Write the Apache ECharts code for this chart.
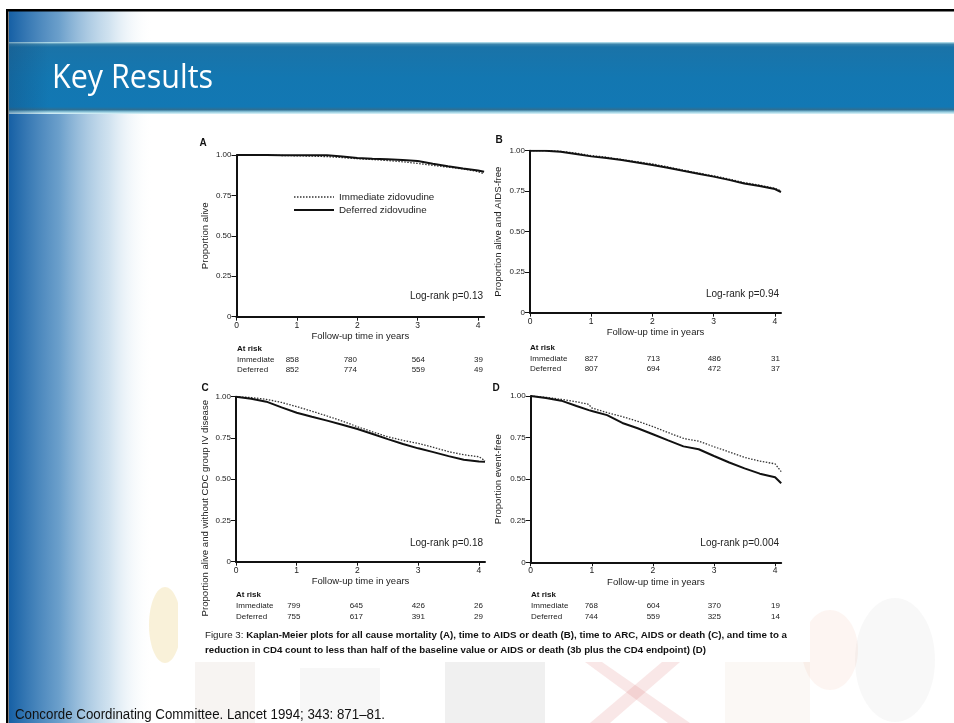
<!DOCTYPE html>
<html><head><meta charset="utf-8">
<script src="https://cdn.jsdelivr.net/npm/echarts@6/dist/echarts.min.js"></script>
<style>html,body{margin:0;padding:0;background:#fff}#c{width:954px;height:723px}</style>
</head><body><div id="c"></div>
<script>
// ---------- data ----------
const panelLetters = ['A', 'B', 'C', 'D'];
const yAxisNames = ['Proportion alive', 'Proportion alive and AIDS-free', 'Proportion alive and without CDC group IV disease', 'Proportion event-free'];
const logRank = ['Log-rank p=0.13', 'Log-rank p=0.94', 'Log-rank p=0.18', 'Log-rank p=0.004'];
const xTicks = [0, 1, 2, 3, 4];
const yTicks = [0, 0.25, 0.5, 0.75, 1];
const seriesNames = ['Immediate zidovudine', 'Deferred zidovudine'];

const timeABC = [0, 0.25, 0.5, 0.75, 1, 1.25, 1.5, 1.75, 2, 2.25, 2.5, 2.75, 3, 3.25, 3.5, 3.75, 4, 4.1];
const immA = [1, 1, 0.999, 0.997, 0.995, 0.993, 0.99, 0.984, 0.977, 0.972, 0.966, 0.958, 0.948, 0.936, 0.925, 0.914, 0.897, 0.883];
const defA = [1, 1, 1, 0.999, 0.998, 0.998, 0.999, 0.99, 0.981, 0.977, 0.974, 0.969, 0.963, 0.946, 0.931, 0.917, 0.904, 0.897];
const immB = [1, 1, 0.996, 0.985, 0.97, 0.96, 0.945, 0.932, 0.918, 0.9, 0.88, 0.862, 0.845, 0.825, 0.803, 0.787, 0.768, 0.752];
const defB = [1, 1, 0.994, 0.98, 0.965, 0.955, 0.942, 0.927, 0.912, 0.895, 0.876, 0.858, 0.84, 0.82, 0.798, 0.782, 0.763, 0.745];
const immC = [1, 0.995, 0.984, 0.965, 0.94, 0.912, 0.883, 0.852, 0.818, 0.787, 0.757, 0.735, 0.717, 0.693, 0.667, 0.648, 0.636, 0.612];
const defC = [1, 0.988, 0.97, 0.935, 0.903, 0.878, 0.855, 0.83, 0.804, 0.774, 0.743, 0.713, 0.687, 0.664, 0.64, 0.618, 0.607, 0.606];
const timeD = [0, 0.25, 0.5, 0.75, 0.95, 1, 1.25, 1.5, 1.75, 2, 2.25, 2.5, 2.75, 3, 3.25, 3.5, 3.75, 4, 4.1];
const immD = [1, 0.992, 0.98, 0.965, 0.95, 0.928, 0.9, 0.876, 0.848, 0.816, 0.78, 0.745, 0.728, 0.695, 0.663, 0.631, 0.608, 0.592, 0.545];
const defD = [1, 0.988, 0.972, 0.94, 0.915, 0.91, 0.885, 0.838, 0.806, 0.77, 0.733, 0.697, 0.68, 0.639, 0.6, 0.565, 0.533, 0.511, 0.475];

const riskImmA = [858, 780, 564, 39], riskDefA = [852, 774, 559, 49];
const riskImmB = [827, 713, 486, 31], riskDefB = [807, 694, 472, 37];
const riskImmC = [799, 645, 426, 26], riskDefC = [755, 617, 391, 29];
const riskImmD = [768, 604, 370, 19], riskDefD = [744, 559, 325, 14];

const captionNormal = 'Figure 3: ';
const captionBold1 = 'Kaplan-Meier plots for all cause mortality (A), time to AIDS or death (B), time to ARC, AIDS or death (C), and time to a';
const captionBold2 = 'reduction in CD4 count to less than half of the baseline value or AIDS or death (3b plus the CD4 endpoint) (D)';
const slideTitle = 'Key Results';
const footer = 'Concorde Coordinating Committee. Lancet 1994; 343: 871\u201381.';

// ---------- layout ----------
const FF = "'Liberation Sans', Arial, sans-serif";
const grids = [
  {left: 236.5, top: 155, width: 247.6, height: 161.7},
  {left: 530, top: 150.7, width: 251, height: 162},
  {left: 236, top: 396.7, width: 249, height: 165},
  {left: 530.7, top: 396, width: 250.5, height: 166.3}
];
const nameGaps = [26, 27, 26, 27];
const namePads = [[0, 0, 0, 0], [0, 0, 0, 0], [0, 58, 0, 0], [0, 0, 0, 0]];
const timeSets = [timeABC, timeABC, timeABC, timeD];
const immSets = [immA, immB, immC, immD];
const defSets = [defA, defB, defC, defD];
const riskImm = [riskImmA, riskImmB, riskImmC, riskImmD];
const riskDef = [riskDefA, riskDefB, riskDefC, riskDefD];
const riskCols = [[299, 357, 425, 483], [598, 660, 721, 780], [300.5, 363, 425, 483], [598, 660, 721, 780]];
const riskRows = [[349, 359.5, 370], [347.5, 358.3, 369], [595, 605.7, 616.5], [595, 606, 616.5]];
const letterPos = [[203, 143], [499, 140], [205, 388], [496, 388]];
const logPos = [[483, 296.5], [779, 294.5], [483, 543], [779, 543]];

const mctx = document.createElement('canvas').getContext('2d');
function tw(str, font) { mctx.font = font; return mctx.measureText(str).width; }

const chart = echarts.init(document.getElementById('c'), null, {renderer: 'canvas'});

const xAxes = [], yAxes = [], series = [];
grids.forEach((g, i) => {
  xAxes.push({
    gridIndex: i, type: 'value', min: 0, max: 4.1,
    name: 'Follow-up time in years', nameLocation: 'middle', nameGap: 15,
    nameTextStyle: {fontSize: 9.5, color: '#222', fontFamily: FF},
    axisLine: {show: true, onZero: false, lineStyle: {color: '#111', width: 2}},
    axisTick: {show: true, length: 4, customValues: xTicks, lineStyle: {color: '#111', width: 1}},
    axisLabel: {fontSize: 8.5, color: '#222', margin: 4, fontFamily: FF, customValues: xTicks},
    splitLine: {show: false}
  });
  yAxes.push({
    gridIndex: i, type: 'value', min: 0, max: 1, interval: 0.25,
    name: yAxisNames[i], nameLocation: 'middle', nameGap: nameGaps[i],
    nameTextStyle: {fontSize: 9.6, color: '#222', fontFamily: FF, padding: namePads[i]},
    axisLine: {show: true, onZero: false, lineStyle: {color: '#111', width: 2}},
    axisTick: {show: true, length: 5, lineStyle: {color: '#111', width: 1}},
    axisLabel: {fontSize: 8, color: '#222', margin: 5, fontFamily: FF,
      formatter: v => v === 0 ? '0' : v.toFixed(2)},
    splitLine: {show: false}
  });
  const t = timeSets[i];
  series.push({
    name: seriesNames[0], type: 'line', xAxisIndex: i, yAxisIndex: i, color: '#333',
    data: t.map((x, k) => [x, immSets[i][k]]), symbol: 'none', z: 3,
    lineStyle: {color: '#333', width: 1.3, type: [1.5, 1.5]}, silent: true
  });
  series.push({
    name: seriesNames[1], type: 'line', xAxisIndex: i, yAxisIndex: i, color: '#111',
    data: t.map((x, k) => [x, defSets[i][k]]), symbol: 'none', z: 4,
    lineStyle: {color: '#111', width: 2}, silent: true
  });
});

// ---------- graphics ----------
const gfx = [];
gfx.push({type: 'rect', z: -20, shape: {x: 0, y: 0, width: 954, height: 723}, style: {fill: '#ffffff'}});
gfx.push({type: 'rect', z: -19, shape: {x: 9, y: 11, width: 200, height: 712},
  style: {fill: new echarts.graphic.LinearGradient(0, 0, 1, 0, [
    {offset: 0, color: 'rgba(22,96,165,1)'}, {offset: 0.25, color: 'rgba(70,135,190,0.8)'},
    {offset: 0.5, color: 'rgba(150,190,220,0.45)'}, {offset: 0.72, color: 'rgba(255,255,255,0)'},
    {offset: 1, color: 'rgba(255,255,255,0)'}])}});
// faded collage hints
gfx.push({type: 'ellipse', z: -18, shape: {cx: 165, cy: 625, rx: 16, ry: 38}, style: {fill: 'rgba(235,205,120,0.28)'}});
gfx.push({type: 'rect', z: -18, shape: {x: 195, y: 662, width: 60, height: 61}, style: {fill: 'rgba(150,120,90,0.08)'}});
gfx.push({type: 'rect', z: -18, shape: {x: 300, y: 668, width: 80, height: 55}, style: {fill: 'rgba(120,120,120,0.06)'}});
gfx.push({type: 'rect', z: -18, shape: {x: 445, y: 662, width: 100, height: 61}, style: {fill: 'rgba(70,70,70,0.08)'}});
gfx.push({type: 'polygon', z: -18, shape: {points: [[585, 662], [602, 662], [690, 723], [668, 723]]}, style: {fill: 'rgba(210,70,70,0.13)'}});
gfx.push({type: 'polygon', z: -18, shape: {points: [[662, 662], [680, 662], [610, 723], [590, 723]]}, style: {fill: 'rgba(210,70,70,0.13)'}});
gfx.push({type: 'rect', z: -18, shape: {x: 725, y: 662, width: 85, height: 61}, style: {fill: 'rgba(200,150,120,0.07)'}});
gfx.push({type: 'ellipse', z: -18, shape: {cx: 830, cy: 650, rx: 28, ry: 40}, style: {fill: 'rgba(240,190,175,0.16)'}});
gfx.push({type: 'ellipse', z: -18, shape: {cx: 895, cy: 660, rx: 40, ry: 62}, style: {fill: 'rgba(150,150,150,0.07)'}});
// title band
gfx.push({type: 'rect', z: -17, shape: {x: 9, y: 42, width: 945, height: 72},
  style: {fill: new echarts.graphic.LinearGradient(0, 0, 0, 1, [
    {offset: 0, color: '#c9eef6'}, {offset: 0.03, color: '#3e86ad'}, {offset: 0.07, color: '#1a73a8'},
    {offset: 0.5, color: '#1377b1'}, {offset: 0.9, color: '#1278b4'}, {offset: 0.94, color: '#2f6f93'},
    {offset: 0.97, color: '#8fc8dc'}, {offset: 1, color: '#dff5fa'}])}});
gfx.push({type: 'rect', z: -16, shape: {x: 9, y: 42, width: 40, height: 72},
  style: {fill: new echarts.graphic.LinearGradient(0, 0, 1, 0, [
    {offset: 0, color: 'rgba(20,70,120,0.35)'}, {offset: 1, color: 'rgba(20,70,120,0)'}])}});
// borders
gfx.push({type: 'rect', z: -15, shape: {x: 6, y: 9, width: 948, height: 2.5}, style: {fill: '#000'}});
gfx.push({type: 'rect', z: -15, shape: {x: 6, y: 9, width: 2.5, height: 714}, style: {fill: '#000'}});
// figure paper
gfx.push({type: 'rect', z: -14, shape: {x: 178, y: 127, width: 632, height: 535}, style: {fill: '#ffffff'}});

const titleFont = "32px 'Open Sans', sans-serif";
gfx.push({type: 'text', z: 50, x: 52, y: 79, scaleX: 161 / tw(slideTitle, titleFont),
  style: {text: slideTitle, fill: '#ffffff', font: titleFont, textVerticalAlign: 'middle'}});
const footFont = "14px 'Liberation Sans', Arial, sans-serif";
gfx.push({type: 'text', z: 50, x: 15, y: 715, scaleX: 370 / tw(footer, footFont),
  style: {text: footer, fill: '#111', font: footFont, textVerticalAlign: 'middle'}});

grids.forEach((g, i) => {
  gfx.push({type: 'text', z: 50, x: letterPos[i][0], y: letterPos[i][1],
    style: {text: panelLetters[i], fill: '#111', font: "bold 10px " + FF, textAlign: 'center', textVerticalAlign: 'middle'}});
  gfx.push({type: 'text', z: 50, x: logPos[i][0], y: logPos[i][1],
    style: {text: logRank[i], fill: '#222', font: "10px " + FF, textAlign: 'right', textVerticalAlign: 'middle'}});
  const x0 = Math.round(g.left);
  const rows = riskRows[i];
  gfx.push({type: 'text', z: 50, x: x0, y: rows[0],
    style: {text: 'At risk', fill: '#111', font: "bold 8px " + FF, textVerticalAlign: 'middle'}});
  gfx.push({type: 'text', z: 50, x: x0, y: rows[1],
    style: {text: 'Immediate', fill: '#222', font: "8px " + FF, textVerticalAlign: 'middle'}});
  gfx.push({type: 'text', z: 50, x: x0, y: rows[2],
    style: {text: 'Deferred', fill: '#222', font: "8px " + FF, textVerticalAlign: 'middle'}});
  riskCols[i].forEach((cx, k) => {
    gfx.push({type: 'text', z: 50, x: cx, y: rows[1],
      style: {text: String(riskImm[i][k]), fill: '#222', font: "8px " + FF, textAlign: 'right', textVerticalAlign: 'middle'}});
    gfx.push({type: 'text', z: 50, x: cx, y: rows[2],
      style: {text: String(riskDef[i][k]), fill: '#222', font: "8px " + FF, textAlign: 'right', textVerticalAlign: 'middle'}});
  });
});

const capN = "8.5px " + FF, capB = "bold 8.5px " + FF;
const w1 = tw(captionNormal, capN) + tw(captionBold1, capB);
const w2 = tw(captionBold2, capB);
gfx.push({type: 'text', z: 50, x: 205, y: 636, scaleX: 582 / w1,
  style: {text: '{n|' + captionNormal + '}{b|' + captionBold1 + '}', textVerticalAlign: 'middle',
    rich: {n: {font: capN, fill: '#222'}, b: {font: capB, fill: '#111'}}}});
gfx.push({type: 'text', z: 50, x: 205, y: 651, scaleX: 501 / w2,
  style: {text: captionBold2, font: capB, fill: '#111', textVerticalAlign: 'middle'}});

chart.setOption({
  animation: false,
  backgroundColor: '#ffffff',
  grid: grids.map(g => Object.assign({containLabel: false}, g)),
  xAxis: xAxes,
  yAxis: yAxes,
  legend: {
    left: 293, top: 192, orient: 'vertical', itemWidth: 40, itemHeight: 10, itemGap: 3,
    padding: 0, selectedMode: false,
    textStyle: {fontSize: 9.8, color: '#222', fontFamily: FF},
    data: [
      {name: seriesNames[0], itemStyle: {opacity: 0}, lineStyle: {color: '#333', width: 1.3, type: [1.5, 1.5]}},
      {name: seriesNames[1], itemStyle: {opacity: 0}, lineStyle: {color: '#111', width: 2}}
    ]
  },
  graphic: {elements: gfx},
  series: series
});
</script>
</body></html>
